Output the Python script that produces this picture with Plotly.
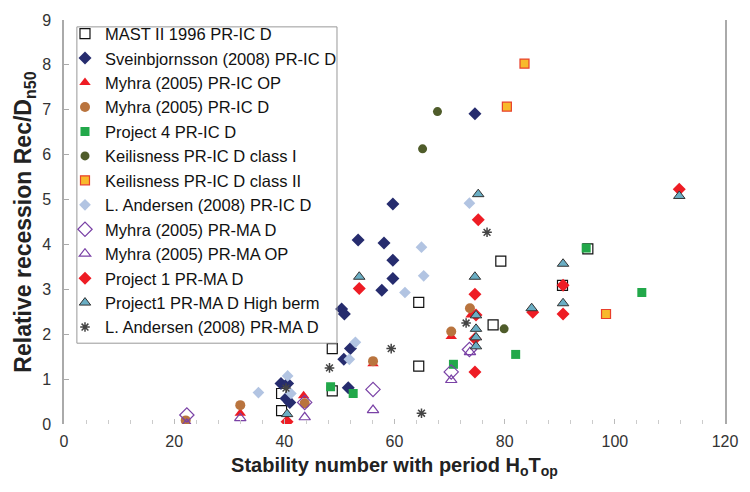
import plotly.graph_objects as go

# ---- data ----
mast_x = [39.5, 39.5, 48.7, 48.7, 64.4, 64.4, 77.9, 79.3, 90.5, 95.1]
mast_y = [0.68, 0.30, 1.68, 0.74, 2.71, 1.29, 2.21, 3.63, 3.09, 3.90]

svein_x = [74.6, 59.7, 53.4, 58.1, 59.7, 59.7, 57.7, 50.4, 50.9, 52.0, 50.8, 51.6, 39.4, 40.6, 40.3, 41.0]
svein_y = [6.91, 4.90, 4.10, 4.03, 3.65, 3.24, 2.98, 2.56, 2.45, 1.68, 1.44, 0.81, 0.90, 0.90, 0.57, 0.48]

myic_op_x = [22.2, 32.0, 43.5, 56.1, 70.3, 73.9]
myic_op_y = [0.02, 0.24, 0.63, 1.34, 1.95, 2.43]

myic_d_x = [22.1, 32.0, 43.7, 56.1, 70.3, 73.7]
myic_d_y = [0.08, 0.42, 0.46, 1.40, 2.06, 2.58]

p4_x = [48.4, 52.5, 70.7, 82.0, 94.8, 104.9]
p4_y = [0.83, 0.68, 1.33, 1.55, 3.92, 2.93]

keil1_x = [67.8, 65.1, 79.9]
keil1_y = [6.96, 6.13, 2.12]

keil2_x = [83.6, 80.4, 98.4]
keil2_y = [8.03, 7.07, 2.45]

and_ic_x = [73.6, 65.3, 64.9, 61.9, 52.9, 51.8, 35.3, 40.6, 41.2]
and_ic_y = [4.92, 3.30, 3.94, 2.93, 1.82, 1.44, 0.70, 1.07, 0.68]

myma_d_x = [22.3, 43.7, 56.1, 70.3, 73.6]
myma_d_y = [0.20, 0.48, 0.77, 1.16, 1.66]

myma_op_x = [22.3, 32.0, 43.7, 56.1, 70.3, 73.7]
myma_op_y = [0.00, 0.13, 0.15, 0.31, 0.98, 1.60]

p1_x = [75.2, 74.6, 74.8, 74.6, 74.6, 85.1, 90.6, 90.6, 111.7, 53.6, 40.5]
p1_y = [4.55, 2.89, 2.43, 1.90, 1.16, 2.49, 3.09, 2.45, 5.23, 3.02, 0.05]

hb_x = [75.2, 53.6, 74.6, 74.8, 74.8, 74.8, 74.8, 84.9, 90.6, 90.6, 111.7, 40.5]
hb_y = [5.12, 3.28, 3.28, 2.42, 2.12, 1.93, 1.73, 2.58, 3.57, 2.69, 5.08, 0.22]

and_ma_x = [76.8, 73.0, 59.4, 48.2, 64.9, 40.3]
and_ma_y = [4.27, 2.25, 1.68, 1.25, 0.24, 0.80]

x_ticks = [0, 20, 40, 60, 80, 100, 120]
y_ticks = [0, 1, 2, 3, 4, 5, 6, 7, 8, 9]

series = [
    ("MAST II 1996 PR-IC D", mast_x, mast_y, dict(symbol="square-open", size=10, color="#111111", line=dict(width=1.2))),
    ("Sveinbjornsson (2008) PR-IC D", svein_x, svein_y, dict(symbol="diamond", size=10, color="#262C6E")),
    ("Myhra (2005) PR-IC OP", myic_op_x, myic_op_y, dict(symbol="triangle-up", size=10, color="#EE1C24")),
    ("Myhra (2005) PR-IC D", myic_d_x, myic_d_y, dict(symbol="circle", size=10, color="#B9743E")),
    ("Project 4 PR-IC D", p4_x, p4_y, dict(symbol="square", size=9, color="#22A84A")),
    ("Keilisness PR-IC D class I", keil1_x, keil1_y, dict(symbol="circle", size=9, color="#4F5C2A")),
    ("Keilisness PR-IC D class II", keil2_x, keil2_y, dict(symbol="square", size=9, color="#F8B92C", line=dict(color="#E8402B", width=1.2))),
    ("L. Andersen (2008) PR-IC D", and_ic_x, and_ic_y, dict(symbol="diamond", size=9, color="#B2C4E2")),
    ("Myhra (2005) PR-MA D", myma_d_x, myma_d_y, dict(symbol="diamond-open", size=11, color="#7A42A6", line=dict(width=1.2))),
    ("Myhra (2005) PR-MA OP", myma_op_x, myma_op_y, dict(symbol="triangle-up-open", size=10, color="#7A42A6", line=dict(width=1.2))),
    ("Project 1 PR-MA D", p1_x, p1_y, dict(symbol="diamond", size=10, color="#EE1C24")),
    ("Project1 PR-MA D High berm", hb_x, hb_y, dict(symbol="triangle-up", size=10, color="#6AAEC4", line=dict(color="#333333", width=1))),
    ("L. Andersen (2008) PR-MA D", and_ma_x, and_ma_y, dict(symbol="asterisk-open", size=8, color="#444444", line=dict(color="#444444", width=1.5))),
]

fig = go.Figure()
for i, (name, xs, ys, mk) in enumerate(series):
    fig.add_trace(go.Scatter(x=xs, y=ys, mode="markers", name=name, marker=mk,
                             legendgroup="g%d" % i))

# legend frame drawn as a shape (Excel-style tight box)
fig.add_shape(type="rect", xref="paper", yref="paper",
              x0=0.0195, x1=0.413, y0=0.2, y1=0.983,
              line=dict(color="#999999", width=1), fillcolor="rgba(0,0,0,0)", layer="above")

fig.update_layout(
    width=750, height=492,
    margin=dict(l=64, r=18, t=13, b=68),
    paper_bgcolor="white", plot_bgcolor="white",
    font=dict(family="Liberation Sans, Arial, sans-serif", color="#222222"),
    showlegend=True,
    legend=dict(x=0.0015, y=0.197, xanchor="left", yanchor="bottom",
                borderwidth=0, bgcolor="rgba(0,0,0,0)",
                font=dict(size=16.5, color="#111111"), traceorder="grouped",
                tracegroupgap=0, itemwidth=30),
    xaxis=dict(range=[0, 120], tickvals=x_ticks, ticks="inside", ticklen=5,
               tickcolor="#bbbbbb", showgrid=False, zeroline=False, showline=False,
               minor=dict(dtick=4, ticks="inside", ticklen=4, tickcolor="#cccccc"),
               tickfont=dict(size=16, color="#333333"), ticklabelstandoff=6,
               title=dict(text="<b>Stability number with period H<sub>o</sub>T<sub>op</sub></b>",
                          font=dict(size=20, color="#222222"), standoff=8)),
    yaxis=dict(range=[0, 9], tickvals=y_ticks, ticks="inside", ticklen=5,
               tickcolor="#aaaaaa", showgrid=False, zeroline=False,
               showline=True, mirror=True, linecolor="#aaaaaa", linewidth=1.5,
               tickfont=dict(size=16, color="#333333"), ticklabelstandoff=8,
               title=dict(text="<b>Relative recession Rec/D<sub>n50</sub></b>",
                          font=dict(size=23, color="#222222"), standoff=4)),
)

fig.write_html("out.html")
